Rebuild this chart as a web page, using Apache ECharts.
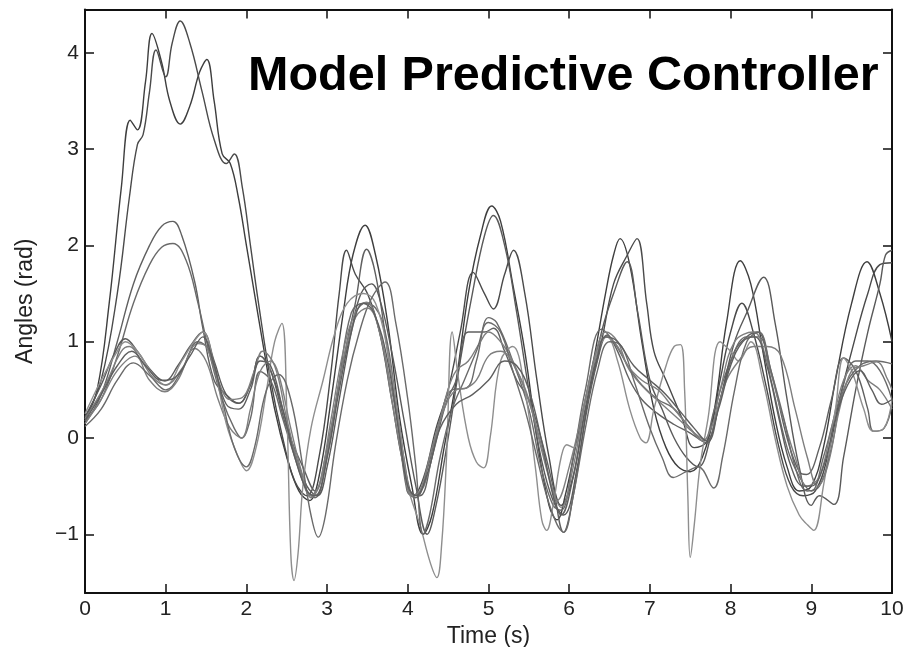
<!DOCTYPE html>
<html>
<head>
<meta charset="utf-8">
<script src="https://cdn.jsdelivr.net/npm/echarts@6/dist/echarts.min.js"></script>
<style>
html,body{margin:0;padding:0;background:#fff;}
#chart{width:906px;height:647px;}
</style>
</head>
<body>
<div id="chart"></div>
<script>
// ---- data: [time (s), angle (rad)] ----
const titleText = "Model Predictive Controller";
const xName = "Time (s)";
const yName = "Angles (rad)";
const xTicks = [0,1,2,3,4,5,6,7,8,9,10];
const yTicks = [-1,0,1,2,3,4];

const run1 = [[0,0.2],[0.15,0.5],[0.3,1.4],[0.45,2.6],[0.56,3.3],[0.65,3.2],[0.75,3.7],[0.83,4.2],[0.95,3.9],[1.05,3.5],[1.18,3.26],[1.3,3.45],[1.42,3.8],[1.51,3.93],[1.6,3.5],[1.7,2.95],[1.8,2.85],[1.9,2.5],[2.0,2.0],[2.1,1.5],[2.2,1.0],[2.35,0.3],[2.5,-0.2],[2.65,-0.55],[2.78,-0.65],[2.9,-0.4],[3.05,0.4],[3.2,1.3],[3.32,1.9],[3.47,2.21],[3.6,1.9],[3.75,1.2],[3.9,0.2],[4.05,-0.5],[4.19,-1.0],[4.3,-0.8],[4.45,-0.1],[4.6,0.6],[4.75,1.5],[4.9,2.1],[5.04,2.41],[5.15,2.25],[5.3,1.6],[5.45,0.9],[5.6,0.0],[5.75,-0.7],[5.85,-0.85],[5.95,-0.6],[6.1,0.0],[6.3,0.8],[6.45,1.5],[6.55,1.9],[6.63,2.07],[6.75,1.8],[6.9,1.0],[7.05,0.3],[7.2,-0.1],[7.35,-0.3],[7.5,-0.35],[7.65,-0.2],[7.8,0.3],[7.95,1.2],[8.12,1.84],[8.25,1.6],[8.4,0.9],[8.55,0.2],[8.7,-0.3],[8.85,-0.55],[9.0,-0.5],[9.15,-0.1],[9.3,0.6],[9.5,1.4],[9.69,1.83],[9.85,1.5],[10,1.0]];
const run2 = [[0,0.2],[0.2,0.6],[0.4,1.5],[0.55,2.5],[0.65,3.05],[0.72,3.15],[0.8,3.6],[0.88,4.03],[1.0,3.75],[1.08,4.1],[1.18,4.33],[1.3,4.1],[1.45,3.6],[1.6,3.1],[1.75,2.85],[1.85,2.95],[1.95,2.6],[2.05,2.0],[2.15,1.4],[2.3,0.6],[2.45,0.0],[2.6,-0.45],[2.75,-0.6],[2.9,-0.2],[3.05,0.7],[3.15,1.5],[3.24,1.95],[3.35,1.7],[3.5,1.5],[3.65,1.1],[3.8,0.4],[3.95,-0.3],[4.07,-0.6],[4.2,-0.4],[4.35,0.1],[4.5,0.5],[4.65,1.1],[4.81,1.72],[4.95,1.5],[5.06,1.34],[5.2,1.7],[5.31,1.95],[5.45,1.5],[5.6,0.6],[5.75,-0.2],[5.9,-0.7],[6.05,-0.4],[6.2,0.3],[6.4,1.0],[6.55,1.6],[6.72,1.9],[6.84,2.07],[6.96,1.4],[7.05,0.9],[7.2,0.6],[7.4,0.2],[7.55,-0.1],[7.71,-0.03],[7.87,0.6],[8.0,1.1],[8.14,1.4],[8.28,1.1],[8.45,0.5],[8.6,-0.1],[8.75,-0.5],[8.9,-0.6],[9.05,-0.55],[9.2,-0.2],[9.35,0.4],[9.5,0.9],[9.7,1.5],[9.85,1.8],[10,1.82]];
const run3 = [[0,0.15],[0.2,0.45],[0.4,1.0],[0.6,1.6],[0.8,2.0],[0.95,2.2],[1.09,2.25],[1.2,2.1],[1.36,1.62],[1.46,1.14],[1.6,0.6],[1.75,0.45],[1.9,0.36],[2.05,0.55],[2.17,0.85],[2.3,0.7],[2.5,0.1],[2.7,-0.3],[2.85,-0.55],[3.0,-0.1],[3.2,0.8],[3.35,1.4],[3.49,1.96],[3.6,1.7],[3.75,0.9],[3.9,0.1],[4.03,-0.55],[4.15,-0.6],[4.3,-0.2],[4.48,0.38],[4.6,0.6],[4.75,1.1],[4.95,1.1],[5.06,1.14],[5.2,0.9],[5.35,0.6],[5.5,0.4],[5.65,0.0],[5.8,-0.5],[5.93,-0.98],[6.05,-0.6],[6.2,0.2],[6.35,0.8],[6.47,1.07],[6.6,0.9],[6.75,0.6],[6.9,0.4],[7.1,0.25],[7.3,0.14],[7.5,0.05],[7.7,-0.05],[7.87,0.4],[8.05,0.9],[8.2,1.05],[8.33,1.1],[8.5,0.7],[8.7,0.0],[8.85,-0.35],[8.94,-0.38],[9.1,-0.1],[9.25,0.4],[9.4,0.83],[9.55,0.7],[9.7,0.3],[9.77,0.07],[9.9,0.1],[10,0.35]];
const run4 = [[0,0.18],[0.2,0.4],[0.4,0.85],[0.6,1.4],[0.8,1.8],[0.95,1.98],[1.09,2.02],[1.25,1.85],[1.4,1.4],[1.55,0.85],[1.7,0.4],[1.85,0.1],[1.94,0.0],[2.05,0.2],[2.17,0.69],[2.3,0.6],[2.45,0.2],[2.6,-0.2],[2.75,-0.55],[2.85,-0.62],[3.0,-0.2],[3.15,0.6],[3.3,1.3],[3.45,1.4],[3.6,1.35],[3.72,1.1],[3.85,0.4],[3.99,-0.55],[4.1,-0.62],[4.25,-0.3],[4.4,0.2],[4.55,0.5],[4.73,0.52],[4.85,0.8],[5.0,1.25],[5.1,1.2],[5.3,0.8],[5.5,0.3],[5.65,-0.3],[5.8,-0.7],[5.9,-0.75],[6.05,-0.2],[6.2,0.5],[6.4,1.13],[6.55,1.0],[6.72,0.76],[6.9,0.55],[7.1,0.4],[7.29,0.31],[7.5,0.1],[7.66,-0.03],[7.8,0.3],[8.0,0.8],[8.2,1.05],[8.35,1.05],[8.5,0.6],[8.7,-0.1],[8.85,-0.4],[9.0,-0.55],[9.15,-0.2],[9.35,0.4],[9.55,0.8],[9.7,0.8],[9.85,0.7],[10,0.4]];
const run5 = [[0,0.22],[0.2,0.55],[0.35,0.85],[0.5,1.03],[0.65,0.9],[0.8,0.72],[0.99,0.59],[1.15,0.75],[1.3,0.95],[1.46,1.1],[1.6,0.8],[1.75,0.45],[1.9,0.36],[2.05,0.55],[2.17,0.85],[2.3,0.7],[2.45,0.3],[2.6,-0.15],[2.75,-0.5],[2.88,-0.6],[3.0,-0.3],[3.15,0.4],[3.3,1.1],[3.42,1.5],[3.55,1.6],[3.65,1.45],[3.8,0.9],[3.95,0.2],[4.1,-0.5],[4.24,-1.0],[4.35,-0.7],[4.5,0.0],[4.65,0.8],[4.8,1.5],[4.95,2.1],[5.06,2.31],[5.2,2.0],[5.35,1.3],[5.5,0.5],[5.65,-0.2],[5.8,-0.65],[5.93,-0.8],[6.1,-0.3],[6.25,0.5],[6.4,1.1],[6.55,1.5],[6.72,1.83],[6.85,1.3],[7.0,0.6],[7.15,0.3],[7.3,0.0],[7.45,-0.2],[7.6,-0.3],[7.75,0.0],[7.9,0.5],[8.05,1.0],[8.2,1.3],[8.41,1.67],[8.55,1.2],[8.7,0.4],[8.85,-0.3],[9.0,-0.7],[9.1,-0.6],[9.28,-0.69],[9.4,-0.2],[9.55,0.5],[9.7,1.1],[9.85,1.6],[9.92,1.9],[10,1.95]];
const run6 = [[0,0.15],[0.2,0.4],[0.4,0.7],[0.62,0.85],[0.8,0.6],[0.99,0.48],[1.15,0.6],[1.36,0.93],[1.5,0.8],[1.65,0.4],[1.8,0.1],[1.94,0.0],[2.05,0.3],[2.17,0.69],[2.3,0.8],[2.4,0.66],[2.55,0.1],[2.7,-0.4],[2.8,-0.62],[2.9,-0.5],[3.05,0.2],[3.2,0.9],[3.35,1.3],[3.49,1.41],[3.62,1.2],[3.8,0.5],[3.95,-0.2],[4.07,-0.6],[4.2,-0.5],[4.35,0.0],[4.49,0.48],[4.6,0.7],[4.75,0.8],[4.9,1.0],[5.0,1.1],[5.15,1.0],[5.3,0.8],[5.45,0.5],[5.6,0.1],[5.75,-0.4],[5.85,-0.65],[6.0,-0.3],[6.2,0.4],[6.35,0.9],[6.45,1.05],[6.6,0.95],[6.75,0.7],[6.95,0.5],[7.15,0.35],[7.35,0.2],[7.55,0.05],[7.7,-0.03],[7.87,0.5],[8.05,1.0],[8.28,1.1],[8.45,0.8],[8.62,0.3],[8.8,-0.2],[8.95,-0.5],[9.1,-0.4],[9.25,0.1],[9.4,0.6],[9.55,0.75],[9.7,0.6],[9.85,0.5],[10,0.3]];
const run7 = [[0,0.25],[0.2,0.6],[0.4,0.9],[0.5,1.0],[0.65,0.9],[0.85,0.65],[1.0,0.55],[1.2,0.8],[1.35,1.0],[1.46,1.1],[1.6,0.75],[1.75,0.15],[1.9,-0.2],[2.0,-0.34],[2.12,-0.1],[2.25,0.5],[2.35,1.0],[2.44,1.19],[2.5,0.3],[2.55,-1.2],[2.59,-1.48],[2.64,-1.2],[2.7,-0.5],[2.8,0.1],[2.95,0.6],[3.1,1.1],[3.25,1.4],[3.45,1.5],[3.6,1.4],[3.75,0.9],[3.9,0.1],[4.0,-0.5],[4.15,-0.9],[4.28,-1.3],[4.36,-1.45],[4.42,-1.1],[4.48,-0.2],[4.55,1.1],[4.63,0.6],[4.75,0.0],[4.85,-0.25],[4.94,-0.31],[5.02,0.0],[5.15,0.8],[5.3,0.95],[5.45,0.5],[5.58,-0.3],[5.66,-0.85],[5.72,-0.96],[5.8,-0.7],[5.9,-0.2],[5.97,-0.07],[6.05,-0.1],[6.2,0.4],[6.35,0.9],[6.47,1.05],[6.6,0.8],[6.75,0.3],[6.88,0.0],[6.95,-0.05],[7.05,0.3],[7.2,0.75],[7.3,0.95],[7.38,0.97],[7.43,0.5],[7.47,-0.6],[7.5,-1.24],[7.55,-0.9],[7.62,-0.3],[7.72,0.2],[7.87,1.0],[8.0,0.9],[8.1,0.8],[8.25,1.0],[8.4,0.6],[8.55,0.0],[8.7,-0.5],[8.85,-0.8],[8.95,-0.9],[9.03,-0.96],[9.15,-0.5],[9.3,0.3],[9.4,0.83],[9.5,0.7],[9.65,0.3],[9.77,0.07],[9.9,0.1],[10,0.4]];
const run8 = [[0,0.12],[0.2,0.3],[0.4,0.6],[0.6,0.78],[0.8,0.65],[1.0,0.5],[1.2,0.7],[1.4,1.0],[1.55,0.9],[1.7,0.4],[1.85,-0.1],[2.0,-0.3],[2.1,-0.1],[2.25,0.5],[2.4,0.66],[2.55,0.4],[2.7,-0.3],[2.8,-0.8],[2.89,-1.03],[2.98,-0.8],[3.1,-0.1],[3.25,0.6],[3.4,1.1],[3.55,1.45],[3.72,1.62],[3.85,1.2],[4.0,0.4],[4.1,-0.3],[4.19,-1.0],[4.27,-0.8],[4.4,-0.2],[4.55,0.3],[4.7,0.6],[4.85,0.9],[5.0,1.2],[5.15,1.1],[5.3,0.7],[5.45,0.3],[5.6,-0.2],[5.72,-0.6],[5.85,-0.9],[5.93,-0.98],[6.05,-0.6],[6.2,0.1],[6.35,0.7],[6.5,1.0],[6.65,0.95],[6.8,0.6],[7.0,0.1],[7.15,-0.2],[7.29,-0.41],[7.45,-0.35],[7.6,-0.3],[7.79,-0.52],[7.9,-0.2],[8.05,0.5],[8.2,1.0],[8.35,1.1],[8.5,0.7],[8.66,0.2],[8.8,-0.3],[8.95,-0.55],[9.1,-0.5],[9.25,-0.1],[9.4,0.5],[9.6,0.75],[9.8,0.8],[10,0.77]];
const run9 = [[0,0.2],[0.25,0.55],[0.45,0.9],[0.55,0.95],[0.7,0.8],[0.85,0.62],[1.0,0.55],[1.2,0.72],[1.4,0.98],[1.5,0.95],[1.65,0.6],[1.8,0.4],[1.95,0.42],[2.1,0.7],[2.2,0.9],[2.35,0.75],[2.5,0.2],[2.65,-0.3],[2.8,-0.6],[2.92,-0.45],[3.05,0.1],[3.2,0.8],[3.35,1.25],[3.5,1.35],[3.65,1.1],[3.8,0.4],[3.95,-0.3],[4.05,-0.6],[4.15,-0.55],[4.3,-0.1],[4.45,0.3],[4.6,0.5],[4.73,0.52],[4.85,0.6],[5.0,0.85],[5.15,0.9],[5.35,0.7],[5.5,0.4],[5.65,-0.1],[5.8,-0.55],[5.9,-0.72],[6.05,-0.3],[6.2,0.4],[6.35,0.95],[6.45,1.1],[6.6,1.0],[6.72,0.76],[6.9,0.6],[7.1,0.5],[7.3,0.3],[7.5,0.1],[7.65,-0.03],[7.8,0.2],[7.95,0.6],[8.1,0.8],[8.28,0.95],[8.45,0.95],[8.62,0.86],[8.8,0.3],[8.95,-0.2],[9.08,-0.5],[9.2,-0.3],[9.35,0.3],[9.5,0.7],[9.65,0.75],[9.81,0.79],[9.95,0.6],[10,0.5]];
const run10 = [[0,0.18],[0.2,0.45],[0.4,0.75],[0.58,0.9],[0.75,0.75],[0.95,0.6],[1.1,0.62],[1.3,0.85],[1.46,1.05],[1.6,0.75],[1.75,0.35],[1.9,0.3],[2.05,0.5],[2.17,0.8],[2.3,0.75],[2.45,0.3],[2.6,-0.2],[2.75,-0.55],[2.85,-0.6],[3.0,-0.2],[3.15,0.5],[3.3,1.1],[3.45,1.4],[3.58,1.3],[3.75,0.8],[3.9,0.0],[4.0,-0.5],[4.1,-0.6],[4.25,-0.35],[4.4,0.1],[4.6,0.35],[4.8,0.45],[5.0,0.6],[5.2,0.8],[5.35,0.75],[5.5,0.5],[5.65,0.0],[5.8,-0.6],[5.9,-0.8],[6.05,-0.4],[6.2,0.3],[6.35,0.85],[6.45,1.05],[6.6,1.0],[6.8,0.75],[7.0,0.6],[7.2,0.45],[7.4,0.25],[7.55,0.1],[7.7,-0.03],[7.85,0.3],[8.0,0.75],[8.15,1.0],[8.3,1.05],[8.45,0.75],[8.6,0.2],[8.75,-0.3],[8.9,-0.5],[9.0,-0.5],[9.15,-0.3],[9.3,0.2],[9.45,0.55],[9.6,0.7],[9.75,0.5],[9.87,0.35],[10,0.4]];

const runs = [run1, run2, run3, run4, run5, run6, run7, run8, run9, run10];
const runColors = ['#3e3e3e','#4a4a4a','#606060','#6a6a6a','#5a5a5a','#7e7e7e','#8e8e8e','#6a6a6a','#7e7e7e','#5e5e5e'];

const X_MIN = 0, X_MAX = 10, Y_MIN = -1.61, Y_MAX = 4.45;

const chart = echarts.init(document.getElementById('chart'), null, {renderer: 'canvas'});
const labelFont = 'Liberation Sans, Arial, Helvetica, sans-serif';
const fmt = v => String(v).replace('-', '\u2212');

const tickCommon = {show: true, inside: true, length: 9, lineStyle: {color: '#111', width: 1.5}};
const lineCommon = {show: true, onZero: false, lineStyle: {color: '#111', width: 2}};

const option = {
  animation: false,
  backgroundColor: '#fff',
  grid: {left: 85, right: 14, top: 9.5, bottom: 54, containLabel: false, outerBoundsMode: 'none'},
  xAxis: [
    {type: 'value', min: X_MIN, max: X_MAX, interval: 1, position: 'bottom',
     axisLine: lineCommon, axisTick: tickCommon, splitLine: {show: false},
     axisLabel: {show: true, margin: 6, fontSize: 21, color: '#222', fontFamily: labelFont,
                 customValues: xTicks, formatter: fmt},
     name: xName, nameLocation: 'middle', nameGap: 30,
     nameTextStyle: {fontSize: 23, color: '#222', fontFamily: labelFont}},
    {type: 'value', min: X_MIN, max: X_MAX, interval: 1, position: 'top',
     axisLine: lineCommon, axisTick: tickCommon, splitLine: {show: false}, axisLabel: {show: false}}
  ],
  yAxis: [
    {type: 'value', min: Y_MIN, max: Y_MAX, position: 'left',
     axisLine: lineCommon, splitLine: {show: false},
     axisTick: Object.assign({customValues: yTicks}, tickCommon),
     axisLabel: {show: true, margin: 6, fontSize: 21, color: '#222', fontFamily: labelFont,
                 customValues: yTicks, formatter: fmt},
     name: yName, nameLocation: 'middle', nameGap: 48, nameRotate: 90,
     nameTextStyle: {fontSize: 23, color: '#222', fontFamily: labelFont}},
    {type: 'value', min: Y_MIN, max: Y_MAX, position: 'right',
     axisLine: lineCommon, splitLine: {show: false},
     axisTick: Object.assign({customValues: yTicks}, tickCommon),
     axisLabel: {show: false}}
  ],
  series: runs.map((r, i) => ({
    type: 'line', data: r, xAxisIndex: 0, yAxisIndex: 0,
    showSymbol: false, smooth: 0.4, clip: true,
    lineStyle: {color: runColors[i], width: 1.4},
    z: 2
  })),
  graphic: [{
    type: 'text', x: 248, y: 77, z: 100,
    style: {text: titleText, font: 'bold 48.5px "Liberation Sans", Arial, sans-serif',
            fill: '#000', textVerticalAlign: 'middle', textAlign: 'left'}
  }]
};
chart.setOption(option);
</script>
</body>
</html>
